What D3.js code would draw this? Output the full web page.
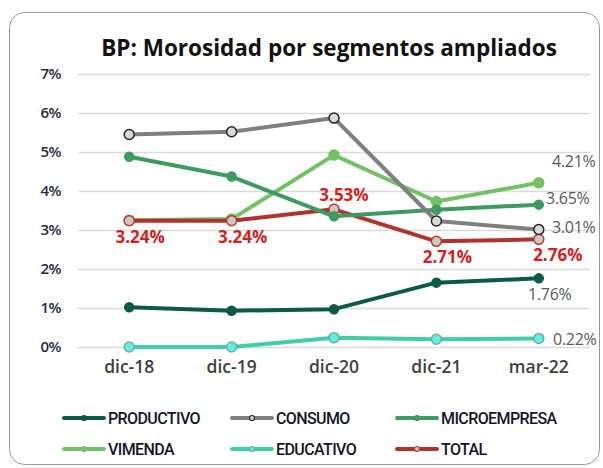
<!DOCTYPE html>
<html>
<head>
<meta charset="utf-8">
<script src="https://cdn.jsdelivr.net/npm/d3@7"></script>
<style>
  body { margin: 0; background: #fff; }
  svg { display: block; }
</style>
</head>
<body>
<svg width="603" height="468"></svg>
<script>
// categorias y series (en %)
let categories = ['dic-18', 'dic-19', 'dic-20', 'dic-21', 'mar-22'];
let productivo = [1.02, 0.93, 0.97, 1.65, 1.76];
let consumo = [5.45, 5.52, 5.87, 3.23, 3.01];
let microempresa = [4.88, 4.37, 3.35, 3.52, 3.65];
let vivienda = [3.25, 3.28, 4.92, 3.73, 4.21];
let educativo = [0.0, 0.0, 0.24, 0.20, 0.22];
let total = [3.24, 3.24, 3.53, 2.71, 2.76];
let yTicks = [0, 1, 2, 3, 4, 5, 6, 7];

let series = [
  { name: 'PRODUCTIVO', values: productivo, color: '#0b5a48', mfill: '#0b5a48', mstroke: '#0b5a48', r: 4.5 },
  { name: 'CONSUMO', values: consumo, color: '#7f7f7f', mfill: '#d9d9d9', mstroke: '#262626', r: 5 },
  { name: 'MICROEMPRESA', values: microempresa, color: '#3f9a62', mfill: '#3f9a62', mstroke: '#3f9a62', r: 4.5 },
  { name: 'VIMENDA', values: vivienda, color: '#74c165', mfill: '#74c165', mstroke: '#74c165', r: 5 },
  { name: 'EDUCATIVO', values: educativo, color: '#3ecfa8', mfill: '#5cf0e6', mstroke: '#7fa79c', r: 5 },
  { name: 'TOTAL', values: total, color: '#ae342b', mfill: '#c9c9c9', mstroke: '#c0392b', r: 5 }
];
// orden de dibujo
let drawOrder = ['EDUCATIVO', 'PRODUCTIVO', 'VIMENDA', 'TOTAL', 'MICROEMPRESA', 'CONSUMO'];

let svg = d3.select('svg');

svg.append('rect')
  .attr('x', 9.5).attr('y', 12.5)
  .attr('width', 590).attr('height', 452)
  .attr('rx', 15)
  .attr('fill', '#fff')
  .attr('stroke', '#999')
  .attr('stroke-width', 1);

svg.append('text')
  .attr('x', 329).attr('y', 56)
  .attr('text-anchor', 'middle')
  .attr('font-family', 'Open Sans, sans-serif')
  .attr('font-weight', 'bold')
  .attr('font-size', 22.5)
  .attr('fill', '#111')
  .text('BP:  Morosidad por segmentos ampliados');

let x = d3.scaleBand().domain(categories).range([78, 590]);
let y = d3.scaleLinear().domain([0, 7]).range([347, 74]);
let cx = function(i) { return x(categories[i]) + x.bandwidth() / 2; };

let grid = svg.append('g');
grid.selectAll('line')
  .data(yTicks)
  .enter().append('line')
  .attr('x1', 78).attr('x2', 590)
  .attr('y1', function(d) { return y(d) + 0.5; })
  .attr('y2', function(d) { return y(d) + 0.5; })
  .attr('stroke', '#d9d9d9')
  .attr('stroke-width', 1.5);

let yAxis = svg.append('g')
  .attr('transform', 'translate(61,0)')
  .call(d3.axisLeft(y).tickValues(yTicks).tickSize(0).tickPadding(0)
    .tickFormat(function(d) { return d + '%'; }));
yAxis.select('.domain').remove();
yAxis.selectAll('text')
  .attr('font-family', 'Open Sans, sans-serif')
  .attr('font-size', 15)
  .attr('font-weight', 600)
  .attr('letter-spacing', -0.5)
  .attr('fill', '#1f2a44');

let xAxis = svg.append('g')
  .attr('transform', 'translate(0,' + 361 + ')')
  .call(d3.axisBottom(x).tickSize(0).tickPadding(0));
xAxis.select('.domain').remove();
xAxis.selectAll('text')
  .attr('dy', '0.71em')
  .attr('font-family', 'Open Sans, sans-serif')
  .attr('font-size', 17.5)
  .attr('font-weight', 600)
  .attr('fill', '#404040');

let line = d3.line()
  .x(function(d, i) { return cx(i); })
  .y(function(d) { return y(d); });

let plot = svg.append('g');
drawOrder.forEach(function(name) {
  let s = series.find(function(t) { return t.name == name; });
  let g = plot.append('g');
  g.append('path')
    .datum(s.values)
    .attr('d', line)
    .attr('fill', 'none')
    .attr('stroke', s.color)
    .attr('stroke-width', 4)
    .attr('stroke-linejoin', 'round');
  g.selectAll('circle')
    .data(s.values)
    .enter().append('circle')
    .attr('cx', function(d, i) { return cx(i); })
    .attr('cy', function(d) { return y(d); })
    .attr('r', s.r)
    .attr('fill', s.mfill)
    .attr('stroke', s.mstroke)
    .attr('stroke-width', 1.5);
});

// etiquetas de datos
let labels = [
  { s: vivienda, i: 4, dx: 35, dy: -21, color: '#595959', w: 'normal' },
  { s: microempresa, i: 4, dx: 29, dy: -6, color: '#595959', w: 'normal' },
  { s: consumo, i: 4, dx: 35, dy: -2, color: '#595959', w: 'normal' },
  { s: productivo, i: 4, dx: 11, dy: 16, color: '#595959', w: 'normal' },
  { s: educativo, i: 4, dx: 36, dy: 1, color: '#595959', w: 'normal' },
  { s: total, i: 0, dx: 11, dy: 16, color: '#d41f1f', w: 'bold' },
  { s: total, i: 1, dx: 11, dy: 16, color: '#d41f1f', w: 'bold' },
  { s: total, i: 2, dx: 10, dy: -14, color: '#d41f1f', w: 'bold' },
  { s: total, i: 3, dx: 11, dy: 16, color: '#d41f1f', w: 'bold' },
  { s: total, i: 4, dx: 19, dy: 16, color: '#d41f1f', w: 'bold' }
];
svg.append('g').selectAll('text')
  .data(labels)
  .enter().append('text')
  .attr('x', function(d) { return cx(d.i) + d.dx; })
  .attr('y', function(d) { return y(d.s[d.i]) + d.dy; })
  .attr('dy', '0.35em')
  .attr('text-anchor', 'middle')
  .attr('font-family', 'Open Sans, sans-serif')
  .attr('font-size', function(d) { return d.w == 'bold' ? 17 : 16; })
  .attr('font-weight', function(d) { return d.w; })
  .attr('letter-spacing', function(d) { return d.w == 'bold' ? 0 : -0.3; })
  .attr('fill', function(d) { return d.color; })
  .text(function(d) { return d.s[d.i].toFixed(2) + '%'; });

// leyenda
let legendCols = [63, 231, 396];
let legendRows = [418, 449];
let legend = svg.append('g').selectAll('g')
  .data(series)
  .enter().append('g')
  .attr('transform', function(d, i) {
    return 'translate(' + legendCols[i % 3] + ',' + legendRows[Math.floor(i / 3)] + ')';
  });
legend.append('line')
  .attr('x1', 1).attr('x2', 41)
  .attr('stroke', function(d) { return d.color; })
  .attr('stroke-width', 4)
  .attr('stroke-linecap', 'round');
legend.append('circle')
  .attr('cx', 21).attr('r', 2.5)
  .attr('fill', function(d) { return d.mfill; })
  .attr('stroke', function(d) { return d.mstroke; })
  .attr('stroke-width', 1.2);
legend.append('text')
  .attr('x', 45)
  .attr('dy', '0.36em')
  .attr('font-family', 'Roboto, sans-serif')
  .attr('font-size', 16)
  .attr('font-weight', 500)
  .attr('letter-spacing', -0.6)
  .attr('fill', '#15152a')
  .text(function(d) { return d.name; });
</script>
</body>
</html>
